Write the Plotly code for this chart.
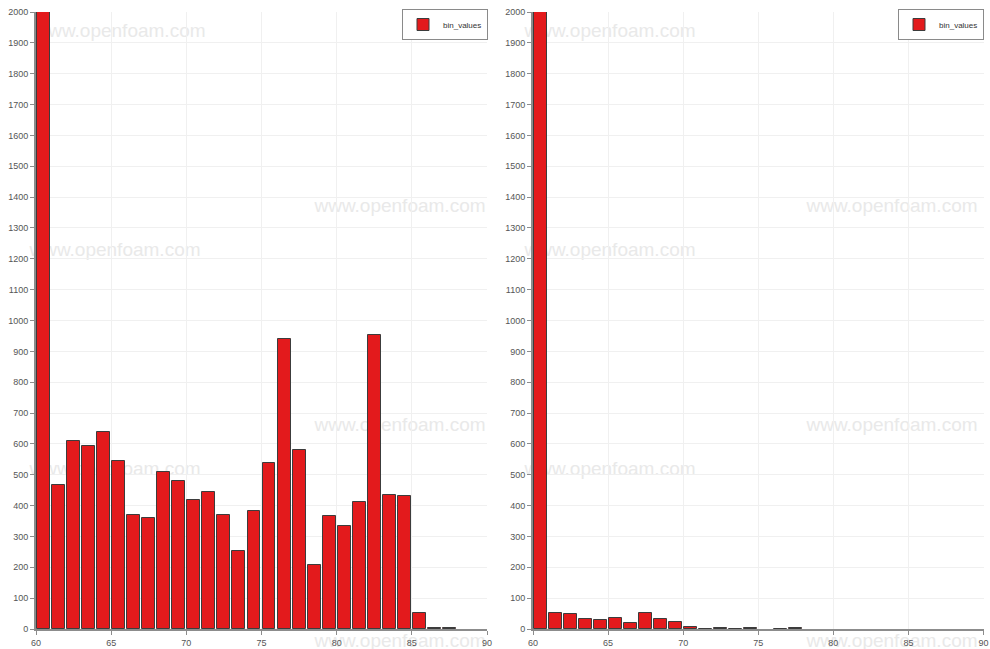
import plotly.graph_objects as go

# Histogram bins (left edge of each unit-wide bin)
bins = [60, 61, 62, 63, 64, 65, 66, 67, 68, 69,
        70, 71, 72, 73, 74, 75, 76, 77, 78, 79,
        80, 81, 82, 83, 84, 85, 86, 87, 88, 89]

# Counts per bin, left and right panels
left_counts = [2000, 467, 609, 593, 638, 545, 370, 360, 509, 480,
               418, 444, 371, 253, 382, 538, 940, 580, 207, 366,
               334, 411, 953, 434, 432, 52, 2, 2, 0, 0]
right_counts = [2000, 51, 48, 34, 28, 36, 21, 53, 31, 22,
                5, 1, 4, 1, 4, 0, 1, 4, 0, 0,
                0, 0, 0, 0, 0, 0, 0, 0, 0, 0]

series_name = "bin_values"
watermark = "www.openfoam.com"

x_ticks = [60, 65, 70, 75, 80, 85, 90]
y_ticks = [0, 100, 200, 300, 400, 500, 600, 700, 800, 900, 1000,
           1100, 1200, 1300, 1400, 1500, 1600, 1700, 1800, 1900, 2000]

W, H = 990, 649
BAR_RED = "#e31a1c"
EDGE = "#3c3c3c"
FONT = "Liberation Sans"

fig = go.Figure()

for counts, xa, ya, lg in [(left_counts, "x", "y", "legend"),
                           (right_counts, "x2", "y2", "legend2")]:
    # empty bins are left undrawn so no outline shows on the axis
    shown = [c if c > 0 else None for c in counts]
    fig.add_trace(go.Bar(
        x=bins, y=shown, name=series_name,
        xaxis=xa, yaxis=ya, legend=lg,
        offset=0.07, width=0.86,
        marker=dict(color=BAR_RED, line=dict(color=EDGE, width=1)),
        showlegend=True,
    ))

axis_common = dict(
    showgrid=True, gridcolor="#f0f0f0", gridwidth=1,
    showline=True, linecolor="#8c8c8c", linewidth=2,
    ticks="outside", ticklen=4, tickcolor="#8c8c8c", tickwidth=1,
    tickfont=dict(family=FONT, size=9, color="#555555"),
    ticklabeloverflow="allow",
    zeroline=False, fixedrange=True, automargin=False,
)

y_dom = [1 - 629 / H, 1 - 12 / H]
legend_common = dict(
    y=1 - 9 / H, xanchor="right", yanchor="top",
    bgcolor="white", bordercolor="#8a8a8a", borderwidth=1,
    font=dict(family=FONT, size=8, color="#333333"),
    itemwidth=30, tracegroupgap=0,
)
fig.update_layout(
    width=W, height=H,
    margin=dict(l=0, r=0, t=0, b=0, autoexpand=False),
    paper_bgcolor="white", plot_bgcolor="white",
    bargap=0,
    xaxis=dict(domain=[36 / W, 487 / W], range=[60, 90], tickvals=x_ticks,
               anchor="y", **axis_common),
    yaxis=dict(domain=y_dom, range=[0, 2000], tickvals=y_ticks,
               anchor="x", **axis_common),
    xaxis2=dict(domain=[533 / W, 983.5 / W], range=[60, 90], tickvals=x_ticks,
                anchor="y2", **axis_common),
    yaxis2=dict(domain=y_dom, range=[0, 2000], tickvals=y_ticks,
                anchor="x2", **axis_common),
    legend=dict(x=488 / W, **legend_common),
    legend2=dict(x=984 / W, **legend_common),
)

# Faint repeated site watermark, kept beneath the bars
marks = [(120, 28), (400, 203), (115, 247), (400, 422), (115, 466), (400, 638),
         (610, 28), (892, 203), (610, 247), (892, 422), (610, 466), (892, 638)]
for cx, cy in marks:
    fig.add_shape(
        type="rect", xref="paper", yref="paper", layer="below",
        x0=(cx - 95) / W, x1=(cx + 95) / W,
        y0=1 - (cy + 10) / H, y1=1 - (cy - 10) / H,
        line=dict(width=0), fillcolor="rgba(0,0,0,0)",
        label=dict(text=watermark, textposition="middle center",
                   font=dict(family=FONT, size=19, color="#e9e9e9")),
    )

fig.write_html("out.html")
